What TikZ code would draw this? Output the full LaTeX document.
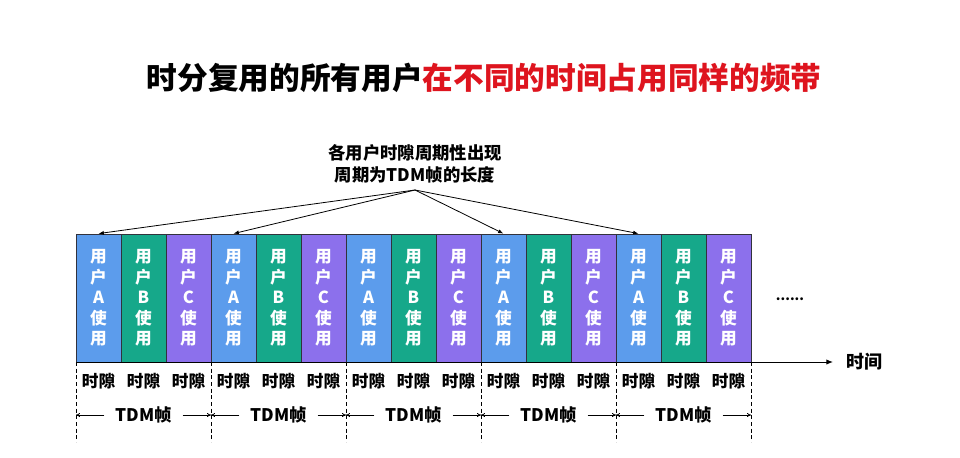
\documentclass[tikz,border=0pt]{standalone}
\usepackage{fontspec}
\newfontfamily\cjk{Noto Sans CJK SC}
\usetikzlibrary{arrows.meta}
\definecolor{ua}{RGB}{92,156,236}
\definecolor{ub}{RGB}{22,168,138}
\definecolor{uc}{RGB}{140,112,236}
\definecolor{tred}{RGB}{222,20,30}
\definecolor{edge}{RGB}{50,50,60}
\begin{document}
\begin{tikzpicture}[x=0.75pt,y=-0.75pt,
  every node/.style={font=\cjk\bfseries},
  slot/.style={draw=edge,line width=0.6pt,minimum width=33.75pt,minimum height=96pt,inner sep=0pt,
    text=white,align=center,font=\cjk\bfseries\fontsize{12.5}{15.4}\selectfont},
  slotlab/.style={font=\cjk\bfseries\fontsize{12.5}{14}\selectfont,inner sep=0pt},
  frlab/.style={font=\cjk\bfseries\fontsize{13}{15}\selectfont,inner xsep=8pt,inner ysep=0pt},
  conn/.style={line width=0.6pt,-{Latex[length=4pt,width=3pt]}},
  farrow/.style={line width=0.6pt,-{To[length=3pt,width=3pt]}},
  frdash/.style={dashed,line width=0.5pt,dash pattern=on 3pt off 2pt}]
\useasboundingbox (0,0) rectangle (960,457);
\node[font=\cjk\bfseries\fontsize{23}{26}\selectfont] (title) at (484,78)
  {\textcolor{black}{时分复用的所有用户}\textcolor{tred}{在不同的时间占用同样的频带}};
\node[align=center,font=\cjk\bfseries\fontsize{13}{16}\selectfont] (note) at (415,164)
  {各用户时隙周期性出现\\周期为TDM帧的长度};
\coordinate (apex) at (415,190);
\foreach \f in {0,...,4}{
  \foreach \j/\c/\L in {0/ua/A,1/ub/B,2/uc/C}{
    \pgfmathsetmacro\xx{76+135*\f+45*\j+22.5}
    \node[slot,fill=\c] (b\f\j) at (\xx,298) {用\\户\\\L\\使\\用};
    \node[slotlab] (t\f\j) at (\xx,381) {时隙};
  }
}
\foreach \f in {0,1,3,4}{
  \draw[conn] (apex) -- (b\f0.north);
}
\foreach \f in {0,...,5}{
  \coordinate (ft\f) at (76+135*\f,362);
  \coordinate (fb\f) at (76+135*\f,442);
  \coordinate (fm\f) at (76+135*\f,415);
  \draw[frdash] (ft\f) -- (fb\f);
}
\foreach \f [evaluate=\f as \g using int(\f+1)] in {0,...,4}{
  \node[frlab] (tdm\f) at (143.5+135*\f,415) {TDM帧};
  \draw[farrow] (tdm\f.west) -- (fm\f);
  \draw[farrow] (tdm\f.east) -- (fm\g);
}
\coordinate (ax0) at (76,362);
\coordinate (ax1) at (833,362);
\draw[line width=0.7pt,-{Latex[length=5pt,width=4pt]}] (ax0) -- (ax1);
\node[anchor=west,font=\cjk\bfseries\fontsize{13.5}{16}\selectfont,inner sep=0pt] (time) at (846,362) {时间};
\node[font=\cjk\bfseries\fontsize{10}{10}\selectfont] (dots) at (790,299) {......};
\end{tikzpicture}
\end{document}
